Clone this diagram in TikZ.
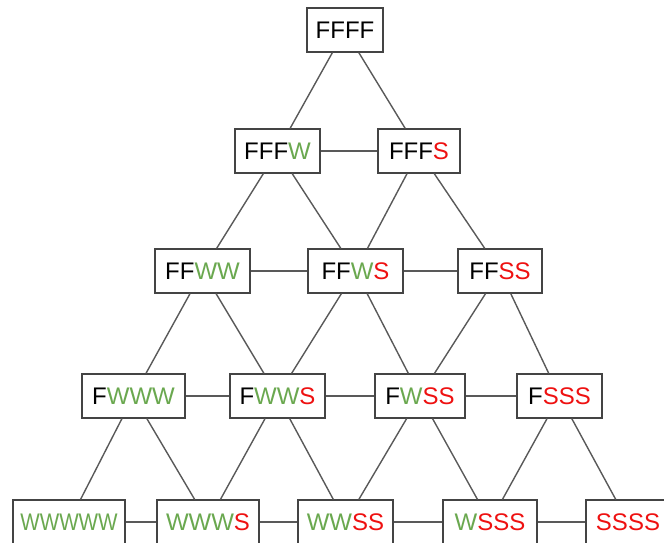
\documentclass[tikz,border=0pt]{standalone}
\usepackage{fontspec}
\setmainfont{Liberation Sans}
\definecolor{gW}{HTML}{6AA84F}
\definecolor{rS}{HTML}{EE1111}
\definecolor{edgegray}{HTML}{595959}
\definecolor{boxgray}{HTML}{444444}
\newcommand{\Wc}{\textcolor{gW}{W}}
\newcommand{\Sc}{\textcolor{rS}{S}}
\begin{document}
\begin{tikzpicture}[x=1pt,y=1pt,
  st/.style={draw=boxgray, line width=1.1pt, fill=white, rectangle, minimum height=44pt, inner xsep=5pt, font=\fontsize{24}{26}\selectfont},
  ed/.style={draw=edgegray, line width=1.4pt}]
\useasboundingbox (0,0) rectangle (664,542);
\clip (0,0) rectangle (664,542);
% row 0
\node[st, minimum width=76pt] (n00) at (345,512) {FFFF};
% row 1
\node[st, minimum width=85pt] (n10) at (277.5,391) {FFF\Wc};
\node[st, minimum width=82pt] (n11) at (419,391) {FFF\Sc};
% row 2
\node[st, minimum width=95pt] (n20) at (202.5,271) {FF\Wc\Wc};
\node[st, minimum width=95pt] (n21) at (355.5,271) {FF\Wc\Sc};
\node[st, minimum width=84pt] (n22) at (500,271) {FF\Sc\Sc};
% row 3
\node[st, minimum width=103pt] (n30) at (133.5,146) {F\Wc\Wc\Wc};
\node[st, minimum width=95pt] (n31) at (277.5,146) {F\Wc\Wc\Sc};
\node[st, minimum width=90pt] (n32) at (420,146) {F\Wc\Sc\Sc};
\node[st, minimum width=85pt] (n33) at (559.5,146) {F\Sc\Sc\Sc};
% row 4
\node[st, minimum width=112pt] (n40) at (69,20) {\scalebox{0.86}[1]{\Wc\Wc\Wc\Wc\Wc}};
\node[st, minimum width=102pt] (n41) at (208,20) {\Wc\Wc\Wc\Sc};
\node[st, minimum width=95pt] (n42) at (345.5,20) {\Wc\Wc\Sc\Sc};
\node[st, minimum width=94pt] (n43) at (490,20) {\Wc\Sc\Sc\Sc};
\node[st, minimum width=84pt] (n44) at (628,20) {\Sc\Sc\Sc\Sc};
% edges
\draw[ed] (n00) -- (n10); \draw[ed] (n00) -- (n11);
\draw[ed] (n10) -- (n11);
\draw[ed] (n10) -- (n20); \draw[ed] (n10) -- (n21);
\draw[ed] (n11) -- (n21); \draw[ed] (n11) -- (n22);
\draw[ed] (n20) -- (n21); \draw[ed] (n21) -- (n22);
\draw[ed] (n20) -- (n30); \draw[ed] (n20) -- (n31);
\draw[ed] (n21) -- (n31); \draw[ed] (n21) -- (n32);
\draw[ed] (n22) -- (n32); \draw[ed] (n22) -- (n33);
\draw[ed] (n30) -- (n31); \draw[ed] (n31) -- (n32); \draw[ed] (n32) -- (n33);
\draw[ed] (n30) -- (n40); \draw[ed] (n30) -- (n41);
\draw[ed] (n31) -- (n41); \draw[ed] (n31) -- (n42);
\draw[ed] (n32) -- (n42); \draw[ed] (n32) -- (n43);
\draw[ed] (n33) -- (n43); \draw[ed] (n33) -- (n44);
\draw[ed] (n40) -- (n41); \draw[ed] (n41) -- (n42); \draw[ed] (n42) -- (n43); \draw[ed] (n43) -- (n44);
\end{tikzpicture}
\end{document}
